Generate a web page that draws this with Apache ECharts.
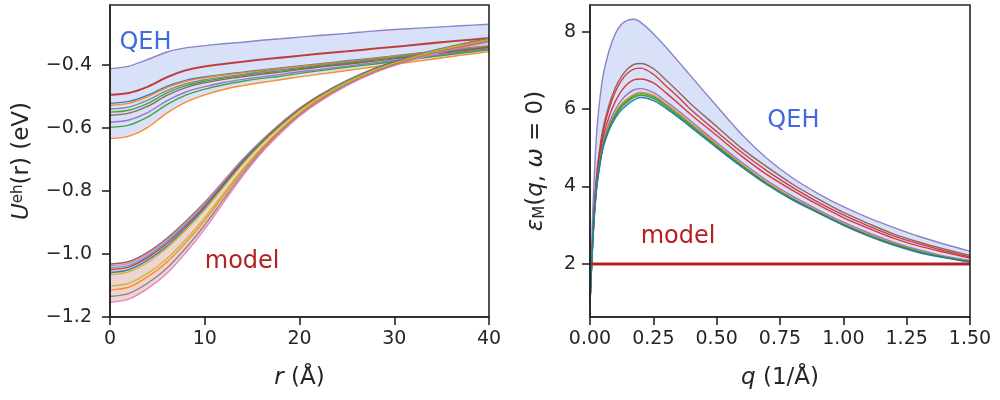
<!DOCTYPE html>
<html>
<head>
<meta charset="utf-8">
<script src="https://cdn.jsdelivr.net/npm/echarts@6/dist/echarts.min.js"></script>
<style>
html,body{margin:0;padding:0;background:#fff;}
#chart{width:1000px;height:400px;}
</style>
</head>
<body>
<div id="chart"></div>
<script>
// left panel: U_eh(r), r in Angstrom
var rVals = [0, 2, 4, 6, 8, 10, 12, 14, 16, 18, 20, 22, 25, 28, 31, 34, 37, 40];
var qehTopL    = [-0.412, -0.404, -0.383, -0.359, -0.346, -0.339, -0.333, -0.328, -0.322, -0.317, -0.312, -0.307, -0.300, -0.292, -0.286, -0.281, -0.276, -0.271];
var qehBrownL  = [-0.494, -0.488, -0.468, -0.438, -0.416, -0.404, -0.396, -0.389, -0.382, -0.376, -0.370, -0.364, -0.356, -0.347, -0.339, -0.330, -0.322, -0.314];
var qehRedL    = [-0.496, -0.490, -0.470, -0.440, -0.418, -0.406, -0.398, -0.391, -0.384, -0.378, -0.372, -0.366, -0.358, -0.349, -0.341, -0.332, -0.324, -0.316];
var qehCyanL   = [-0.522, -0.516, -0.496, -0.468, -0.449, -0.438, -0.430, -0.423, -0.416, -0.410, -0.403, -0.397, -0.387, -0.378, -0.368, -0.358, -0.349, -0.339];
var qehOrangeL = [-0.528, -0.522, -0.501, -0.472, -0.452, -0.441, -0.432, -0.425, -0.418, -0.411, -0.405, -0.399, -0.389, -0.379, -0.369, -0.359, -0.350, -0.340];
var qehGreyL   = [-0.540, -0.534, -0.512, -0.482, -0.460, -0.447, -0.438, -0.430, -0.422, -0.415, -0.409, -0.402, -0.392, -0.382, -0.372, -0.362, -0.352, -0.342];
var qehGreenL  = [-0.550, -0.544, -0.522, -0.489, -0.466, -0.452, -0.442, -0.434, -0.426, -0.419, -0.412, -0.405, -0.395, -0.385, -0.375, -0.364, -0.354, -0.344];
var qehTanL    = [-0.560, -0.553, -0.531, -0.497, -0.472, -0.457, -0.446, -0.438, -0.430, -0.423, -0.415, -0.408, -0.398, -0.388, -0.377, -0.366, -0.356, -0.345];
var qehPurpleL = [-0.582, -0.575, -0.551, -0.514, -0.486, -0.469, -0.456, -0.446, -0.438, -0.430, -0.422, -0.415, -0.404, -0.393, -0.382, -0.371, -0.360, -0.349];
var qehGreen2L = [-0.598, -0.591, -0.565, -0.526, -0.496, -0.477, -0.463, -0.452, -0.443, -0.436, -0.427, -0.419, -0.408, -0.397, -0.386, -0.374, -0.363, -0.352];
var qehLowL    = [-0.634, -0.626, -0.598, -0.553, -0.518, -0.495, -0.478, -0.466, -0.456, -0.447, -0.438, -0.430, -0.418, -0.406, -0.394, -0.382, -0.370, -0.358];

var modelTop = [-1.032, -1.024, -0.994, -0.950, -0.896, -0.836, -0.768, -0.700, -0.640, -0.586, -0.538, -0.498, -0.449, -0.410, -0.380, -0.355, -0.334, -0.316];
var model2   = [-1.038, -1.030, -1.000, -0.956, -0.901, -0.840, -0.771, -0.703, -0.642, -0.588, -0.539, -0.499, -0.450, -0.411, -0.381, -0.356, -0.335, -0.317];
var model3   = [-1.044, -1.036, -1.006, -0.961, -0.906, -0.845, -0.775, -0.705, -0.644, -0.589, -0.541, -0.500, -0.451, -0.411, -0.381, -0.356, -0.335, -0.317];
var model4   = [-1.050, -1.042, -1.011, -0.967, -0.911, -0.849, -0.778, -0.708, -0.646, -0.591, -0.542, -0.501, -0.452, -0.412, -0.382, -0.357, -0.336, -0.318];
var model5   = [-1.059, -1.050, -1.019, -0.975, -0.918, -0.855, -0.783, -0.712, -0.649, -0.593, -0.544, -0.503, -0.453, -0.413, -0.383, -0.358, -0.337, -0.319];
var model6   = [-1.066, -1.057, -1.026, -0.981, -0.924, -0.860, -0.787, -0.715, -0.651, -0.595, -0.545, -0.504, -0.454, -0.414, -0.384, -0.358, -0.337, -0.319];
var model7   = [-1.102, -1.093, -1.061, -1.015, -0.954, -0.885, -0.807, -0.731, -0.663, -0.604, -0.553, -0.510, -0.459, -0.418, -0.388, -0.362, -0.341, -0.323];
var model8   = [-1.114, -1.105, -1.072, -1.026, -0.964, -0.894, -0.814, -0.736, -0.667, -0.607, -0.555, -0.512, -0.461, -0.420, -0.389, -0.363, -0.342, -0.324];
var model9   = [-1.135, -1.125, -1.092, -1.045, -0.981, -0.908, -0.826, -0.745, -0.673, -0.612, -0.559, -0.516, -0.463, -0.422, -0.391, -0.365, -0.344, -0.326];
var modelLow = [-1.153, -1.143, -1.109, -1.062, -0.996, -0.921, -0.836, -0.753, -0.679, -0.617, -0.563, -0.519, -0.466, -0.424, -0.393, -0.367, -0.346, -0.328];

// right panel: eps_M(q, w=0), q in 1/Angstrom
var qVals = [0, 0.01, 0.02, 0.03, 0.05, 0.075, 0.1, 0.125, 0.15, 0.175, 0.2, 0.25, 0.3, 0.35, 0.4, 0.5, 0.6, 0.7, 0.8, 0.9, 1.0, 1.1, 1.2, 1.3, 1.4, 1.5];
var epsTop    = [1.0, 3.2, 4.7, 5.7, 6.8, 7.5, 7.95, 8.2, 8.3, 8.32, 8.24, 7.95, 7.6, 7.22, 6.84, 6.08, 5.34, 4.72, 4.22, 3.82, 3.48, 3.19, 2.94, 2.71, 2.51, 2.33];
var epsBrown  = [1.0, 2.6, 3.8, 4.55, 5.45, 6.1, 6.55, 6.85, 7.05, 7.16, 7.18, 7.05, 6.75, 6.44, 6.12, 5.55, 4.98, 4.5, 4.06, 3.68, 3.33, 3.04, 2.77, 2.56, 2.38, 2.22];
var epsRed1   = [1.0, 2.55, 3.75, 4.48, 5.36, 6.0, 6.45, 6.75, 6.94, 7.04, 7.06, 6.9, 6.6, 6.3, 5.98, 5.42, 4.88, 4.4, 3.98, 3.6, 3.27, 2.98, 2.72, 2.52, 2.34, 2.18];
var epsRed2   = [1.0, 2.5, 3.65, 4.38, 5.22, 5.8, 6.2, 6.48, 6.66, 6.76, 6.78, 6.68, 6.42, 6.14, 5.85, 5.32, 4.78, 4.3, 3.9, 3.53, 3.2, 2.92, 2.66, 2.46, 2.3, 2.15];
var epsPurple = [1.0, 2.48, 3.58, 4.28, 5.1, 5.64, 5.98, 6.24, 6.4, 6.5, 6.53, 6.43, 6.2, 5.95, 5.68, 5.14, 4.62, 4.15, 3.75, 3.4, 3.08, 2.8, 2.56, 2.36, 2.2, 2.09];
var epsOrange = [1.0, 2.47, 3.54, 4.22, 5.04, 5.56, 5.9, 6.14, 6.28, 6.39, 6.44, 6.36, 6.14, 5.89, 5.62, 5.09, 4.57, 4.1, 3.7, 3.36, 3.04, 2.76, 2.53, 2.33, 2.18, 2.07];
var epsGreen  = [1.0, 2.46, 3.52, 4.2, 5.01, 5.52, 5.86, 6.1, 6.24, 6.35, 6.4, 6.32, 6.1, 5.85, 5.58, 5.05, 4.54, 4.07, 3.68, 3.34, 3.02, 2.74, 2.51, 2.32, 2.17, 2.06];
var epsGrey   = [1.0, 2.46, 3.51, 4.18, 4.98, 5.49, 5.82, 6.05, 6.2, 6.31, 6.36, 6.28, 6.06, 5.81, 5.55, 5.03, 4.52, 4.06, 3.66, 3.33, 3.01, 2.73, 2.5, 2.3, 2.17, 2.05];
var epsLow    = [1.0, 2.45, 3.5, 4.15, 4.95, 5.45, 5.77, 5.98, 6.13, 6.24, 6.3, 6.22, 6.02, 5.78, 5.52, 5.0, 4.5, 4.04, 3.65, 3.32, 3.0, 2.72, 2.48, 2.29, 2.16, 2.05];
var qModel = [0, 1.5];
var epsModel = [2, 2];

var ticksUL = [-1.2, -1.0, -0.8, -0.6, -0.4];
var ticksEps = [2, 4, 6, 8];

var FONT = 'DejaVu Sans';
var INK = '#262626';
var QEH_COLOR = '#4169e1';
var MODEL_COLOR = '#b22222';

function pairs(xs, ys) {
    return xs.map(function (x, i) { return [x, ys[i]]; });
}
// value first, so the stack is applied on the y dimension
function pairsYX(xs, ys) {
    return xs.map(function (x, i) { return [ys[i], x]; });
}
function diff(a, b) {
    return a.map(function (v, i) { return v - b[i]; });
}
function line(name, xs, ys, color, idx, width) {
    return {
        name: name, type: 'line', xAxisIndex: idx, yAxisIndex: idx,
        data: pairs(xs, ys), smooth: 0.3, showSymbol: false, silent: true,
        lineStyle: { color: color, width: width || 1.4, opacity: 0.9 },
        z: 3
    };
}
// fill between two curves: invisible base + stacked difference with area
function band(id, xs, low, high, fill, idx) {
    var common = {
        type: 'line', stack: id, stackStrategy: 'all', xAxisIndex: idx, yAxisIndex: idx,
        encode: { x: 1, y: 0 }, smooth: 0.3, showSymbol: false, silent: true,
        lineStyle: { width: 0, opacity: 0 }, z: 1
    };
    return [
        Object.assign({ name: id + 'base', data: pairsYX(xs, low) }, common),
        Object.assign({ name: id + 'fill', data: pairsYX(xs, diff(high, low)),
                        areaStyle: { color: fill, opacity: 1 } }, common)
    ];
}
function minus(s) { return s.replace('-', '\u2212'); }

var axisCommon = {
    z: 5,
    axisLine: { show: true, onZero: false, lineStyle: { color: INK, width: 1.6 } },
    axisTick: { show: true, inside: false, length: 8, lineStyle: { color: INK, width: 1.6 } },
    splitLine: { show: false }
};
var labelCommon = { fontFamily: FONT, fontSize: 19, color: INK };
var rich = {
    i: { fontFamily: FONT, fontStyle: 'italic', fontSize: 23, color: INK },
    sup: { fontFamily: FONT, fontSize: 15, color: INK, verticalAlign: 'top' },
    sub: { fontFamily: FONT, fontSize: 15, color: INK, verticalAlign: 'bottom' },
    n: { fontFamily: FONT, fontSize: 23, color: INK }
};

var series = [];
series = series.concat(band('qL', rVals, qehLowL, qehTopL, 'rgba(65,105,225,0.2)', 0));
series = series.concat(band('mL', rVals, modelLow, modelTop, 'rgba(178,34,34,0.2)', 0));
series.push(line('qehTop', rVals, qehTopL, '#8078c4', 0));
series.push(line('qehBrown', rVals, qehBrownL, '#8c564b', 0));
series.push(line('qehRed', rVals, qehRedL, '#d62728', 0));
series.push(line('qehCyan', rVals, qehCyanL, '#1f77b4', 0));
series.push(line('qehOrange', rVals, qehOrangeL, '#ff7f0e', 0));
series.push(line('qehGrey', rVals, qehGreyL, '#7f7f7f', 0));
series.push(line('qehGreen', rVals, qehGreenL, '#2ca02c', 0));
series.push(line('qehTan', rVals, qehTanL, '#8c564b', 0));
series.push(line('qehPurple', rVals, qehPurpleL, '#9467bd', 0));
series.push(line('qehGreen2', rVals, qehGreen2L, '#2ca02c', 0));
series.push(line('qehLow', rVals, qehLowL, '#ff7f0e', 0));
series.push(line('modelTop', rVals, modelTop, '#8c564b', 0));
series.push(line('model2', rVals, model2, '#e377c2', 0));
series.push(line('model3', rVals, model3, '#17becf', 0));
series.push(line('model4', rVals, model4, '#d62728', 0));
series.push(line('model5', rVals, model5, '#1f77b4', 0));
series.push(line('model6', rVals, model6, '#bcbd22', 0));
series.push(line('model7', rVals, model7, '#bcbd22', 0));
series.push(line('model8', rVals, model8, '#ff7f0e', 0));
series.push(line('model9', rVals, model9, '#7f7f7f', 0));
series.push(line('modelLow', rVals, modelLow, '#e377c2', 0));

series = series.concat(band('qR', qVals, epsLow, epsTop, 'rgba(65,105,225,0.2)', 1));
series.push(line('epsTop', qVals, epsTop, '#8078c4', 1));
series.push(line('epsBrown', qVals, epsBrown, '#8c564b', 1));
series.push(line('epsRed1', qVals, epsRed1, '#d62728', 1));
series.push(line('epsRed2', qVals, epsRed2, '#d62728', 1));
series.push(line('epsPurple', qVals, epsPurple, '#9467bd', 1));
series.push(line('epsOrange', qVals, epsOrange, '#ff7f0e', 1));
series.push(line('epsGreen', qVals, epsGreen, '#2ca02c', 1));
series.push(line('epsGrey', qVals, epsGrey, '#2ca02c', 1));
series.push(line('epsLow', qVals, epsLow, '#1f77b4', 1));
var modelLine = line('epsModel', qModel, epsModel, MODEL_COLOR, 1, 3);
modelLine.smooth = false;
modelLine.lineStyle.opacity = 1;
modelLine.z = 4;
series.push(modelLine);

var myChart = echarts.init(document.getElementById('chart'));
myChart.setOption({
    animation: false,
    backgroundColor: '#fff',
    grid: [
        { left: 110, top: 5, width: 379, height: 312, show: true, z: 5, borderColor: INK, borderWidth: 1.6, backgroundColor: 'transparent' },
        { left: 590, top: 5, width: 380, height: 312, show: true, z: 5, borderColor: INK, borderWidth: 1.6, backgroundColor: 'transparent' }
    ],
    xAxis: [
        Object.assign({}, axisCommon, {
            gridIndex: 0, type: 'value', min: 0, max: 40, interval: 10,
            name: '{i|r}{n| (Å)}', nameLocation: 'middle', nameGap: 50,
            nameTextStyle: { rich: rich },
            axisLabel: Object.assign({ margin: 13 }, labelCommon)
        }),
        Object.assign({}, axisCommon, {
            gridIndex: 1, type: 'value', min: 0, max: 1.5, interval: 0.25,
            name: '{i|q}{n| (1/Å)}', nameLocation: 'middle', nameGap: 50,
            nameTextStyle: { rich: rich },
            axisLabel: Object.assign({ margin: 13, formatter: function (v) { return v.toFixed(2); } }, labelCommon)
        })
    ],
    yAxis: [
        Object.assign({}, axisCommon, {
            gridIndex: 0, type: 'value', min: -1.2, max: -0.21,
            name: '{i|U}{sup|eh}{n|(r) (eV)}', nameLocation: 'middle', nameGap: 76, nameRotate: 90,
            nameTextStyle: { rich: rich },
            axisTick: Object.assign({}, axisCommon.axisTick, { customValues: ticksUL }),
            axisLabel: Object.assign({ margin: 18, customValues: ticksUL,
                formatter: function (v) { return minus(v.toFixed(1)); } }, labelCommon)
        }),
        Object.assign({}, axisCommon, {
            gridIndex: 1, type: 'value', min: 0.63, max: 8.69,
            name: '{i|ε}{sub|M}{n|(}{i|q}{n|, }{i|ω}{n| = 0)}', nameLocation: 'middle', nameGap: 42, nameRotate: 90,
            nameTextStyle: { rich: rich },
            axisTick: Object.assign({}, axisCommon.axisTick, { customValues: ticksEps }),
            axisLabel: Object.assign({ margin: 14, customValues: ticksEps,
                formatter: function (v) { return String(Math.round(v)); } }, labelCommon)
        })
    ],
    series: series
});

// annotation texts placed in data coordinates
var notes = [
    { text: 'QEH', color: QEH_COLOR, grid: 0, at: [1, -0.33] },
    { text: 'model', color: MODEL_COLOR, grid: 0, at: [10, -1.025] },
    { text: 'QEH', color: QEH_COLOR, grid: 1, at: [0.70, 5.71] },
    { text: 'model', color: MODEL_COLOR, grid: 1, at: [0.20, 2.70] }
];
myChart.setOption({
    graphic: notes.map(function (n) {
        var p = myChart.convertToPixel({ xAxisIndex: n.grid, yAxisIndex: n.grid }, n.at);
        return {
            type: 'text', x: p[0], y: p[1], z: 10,
            style: { text: n.text, fill: n.color, font: '24px "DejaVu Sans"',
                     textAlign: 'left', textVerticalAlign: 'middle' }
        };
    })
});
</script>
</body>
</html>
